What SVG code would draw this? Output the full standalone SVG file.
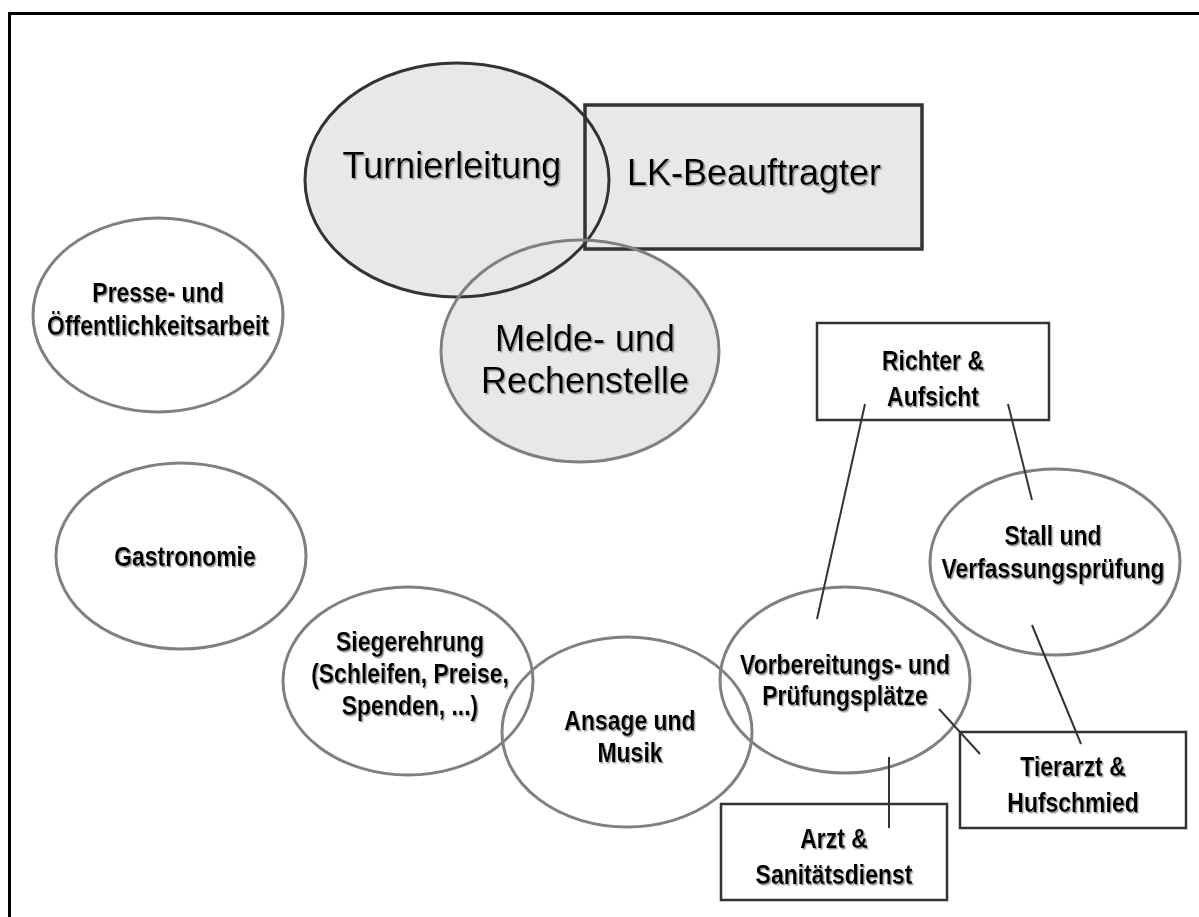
<svg xmlns="http://www.w3.org/2000/svg" width="1199" height="917" viewBox="0 0 1199 917">
<style>
.big{font-family:"Liberation Sans",Arial,sans-serif;font-size:36px;fill:#000;text-anchor:middle;filter:url(#sh)}
.lbl{font-family:"Liberation Sans",Arial,sans-serif;font-weight:bold;font-size:27px;fill:#000;text-anchor:middle;filter:url(#sh)}
.ell{fill:none;stroke:#808080;stroke-width:3}
.box{fill:#fff;stroke:#333;stroke-width:2.5}
.con{stroke:#333;stroke-width:2;fill:none}
</style>
<defs>
<filter id="sh" x="-5%" y="-20%" width="110%" height="140%">
<feDropShadow dx="1.5" dy="1.5" stdDeviation="0.6" flood-color="#9a9a9a" flood-opacity="1"/>
</filter>
</defs>
<rect x="0" y="0" width="1199" height="917" fill="#fff"/>
<rect x="9.5" y="13.5" width="1200" height="920" fill="none" stroke="#000" stroke-width="3"/>
<g id="fills">
<ellipse cx="457" cy="180" rx="152" ry="117" fill="#e8e8e8"/>
<rect x="585" y="105" width="337" height="144" fill="#e8e8e8"/>
<ellipse cx="580" cy="351" rx="139" ry="111" fill="#e8e8e8"/>
</g>
<g id="turnierleitung">
<ellipse cx="457" cy="180" rx="152" ry="117" fill="none" stroke="#333" stroke-width="3"/>
<text class="big" x="452" y="178">Turnierleitung</text>
</g>
<g id="lk-beauftragter">
<rect x="585" y="105" width="337" height="144" fill="none" stroke="#333" stroke-width="3.5"/>
<text class="big" x="754" y="185">LK-Beauftragter</text>
</g>
<g id="melde">
<ellipse cx="580" cy="351" rx="139" ry="111" fill="none" stroke="#808080" stroke-width="3"/>
<text class="big" x="585" y="351">Melde- und</text>
<text class="big" x="585" y="393">Rechenstelle</text>
</g>
<g id="presse">
<ellipse class="ell" cx="158" cy="315" rx="125" ry="97"/>
<text class="lbl" transform="translate(158 302) scale(0.85 1)">Presse- und</text>
<text class="lbl" transform="translate(158 335) scale(0.85 1)">Öffentlichkeitsarbeit</text>
</g>
<g id="gastronomie">
<ellipse class="ell" cx="181" cy="556" rx="125" ry="93"/>
<text class="lbl" transform="translate(185 566) scale(0.85 1)">Gastronomie</text>
</g>
<g id="siegerehrung">
<ellipse class="ell" cx="408" cy="681" rx="125" ry="94"/>
<text class="lbl" transform="translate(410 651) scale(0.85 1)">Siegerehrung</text>
<text class="lbl" transform="translate(410 683) scale(0.85 1)">(Schleifen, Preise,</text>
<text class="lbl" transform="translate(410 715) scale(0.85 1)">Spenden, ...)</text>
</g>
<g id="ansage">
<ellipse class="ell" cx="627" cy="732" rx="125" ry="95"/>
<text class="lbl" transform="translate(630 730) scale(0.85 1)">Ansage und</text>
<text class="lbl" transform="translate(630 762) scale(0.85 1)">Musik</text>
</g>
<g id="vorbereitung">
<ellipse class="ell" cx="845" cy="680" rx="125" ry="93"/>
<text class="lbl" transform="translate(845 674) scale(0.85 1)">Vorbereitungs- und</text>
<text class="lbl" transform="translate(845 705) scale(0.85 1)">Prüfungsplätze</text>
</g>
<g id="stall">
<ellipse class="ell" cx="1055" cy="562" rx="125" ry="93"/>
<text class="lbl" transform="translate(1053 545) scale(0.85 1)">Stall und</text>
<text class="lbl" transform="translate(1053 578) scale(0.85 1)">Verfassungsprüfung</text>
</g>
<g id="richter">
<rect class="box" x="817" y="323" width="232" height="97"/>
<text class="lbl" transform="translate(933 370) scale(0.85 1)">Richter &amp;</text>
<text class="lbl" transform="translate(933 406) scale(0.85 1)">Aufsicht</text>
</g>
<g id="tierarzt">
<rect class="box" x="960" y="732" width="226" height="96"/>
<text class="lbl" transform="translate(1073 776) scale(0.85 1)">Tierarzt &amp;</text>
<text class="lbl" transform="translate(1073 812) scale(0.85 1)">Hufschmied</text>
</g>
<g id="arzt">
<rect class="box" x="721" y="804" width="226" height="96"/>
<text class="lbl" transform="translate(834 848) scale(0.85 1)">Arzt &amp;</text>
<text class="lbl" transform="translate(834 884) scale(0.85 1)">Sanitätsdienst</text>
</g>
<g id="connectors">
<line class="con" x1="865" y1="404" x2="817" y2="619"/>
<line class="con" x1="1008" y1="404" x2="1032" y2="500"/>
<line class="con" x1="1032" y1="625" x2="1081" y2="744"/>
<line class="con" x1="939" y1="709" x2="980" y2="754"/>
<line class="con" x1="889" y1="757" x2="889" y2="828"/>
</g>
</svg>
